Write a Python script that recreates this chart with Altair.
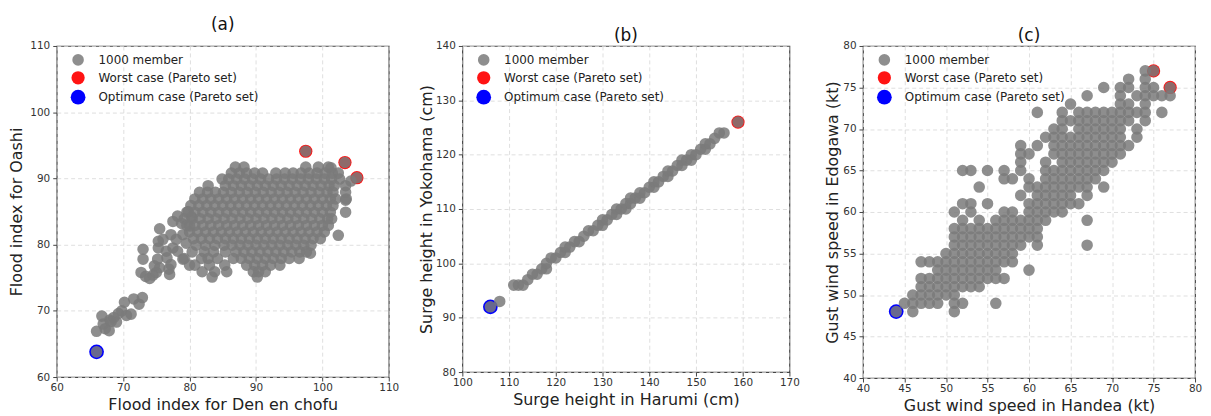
import altair as alt
import pandas as pd

SERIES = ["1000 member", "Worst case (Pareto set)", "Optimum case (Pareto set)"]
SERIES_COLORS = ["#7a7a7a", "#ff0000", "#0000ff"]
SERIES_SIZES = [135, 220, 220]
SERIES_OPACITY = [0.85, 1, 1]

# ---------------- (a) Flood index ----------------
a_tail_den = [66.0, 66.8, 67.0, 67.3, 67.9, 68.0, 68.2, 68.6, 69.0, 69.3,
              69.8, 70.2, 70.5, 71.2, 71.6, 72.4, 72.9]
a_tail_oashi = [66.9, 69.2, 68.0, 67.3, 67.0, 68.6, 68.4, 69.0, 68.3, 69.6,
                70.0, 71.3, 69.3, 69.5, 71.8, 71.0, 72.0]
a_left_den = [73.0, 73.0, 72.7, 73.4, 74.0, 74.5, 75.0, 75.5, 74.7, 75.2,
              75.3, 75.3, 75.5, 76.0, 76.5, 76.6, 76.9, 77.0, 77.2, 77.5,
              77.2, 78.0, 77.5, 78.2, 78.8, 79.0, 78.2, 79.0, 79.5, 80.0,
              80.3, 79.8]
a_left_oashi = [79.3, 77.8, 75.8, 75.2, 74.9, 75.4, 75.8, 76.5, 76.8, 77.8,
                79.5, 80.5, 82.4, 80.8, 79.0, 78.0, 76.3, 75.5, 77.0, 79.5,
                81.5, 80.8, 83.5, 84.3, 83.2, 81.5, 79.0, 77.8, 80.2, 82.8,
                84.2, 85.0]
a_row_oashi = [91.7, 90.8, 89.9, 88.9, 87.9, 86.9, 85.9, 84.9, 83.9, 82.9,
               81.9, 80.9, 79.9, 78.9, 77.9, 76.9, 75.9, 75.1]
a_row_den = [
    [86.9, 88.2, 97.5, 99.4, 100.9],
    [86.3, 87.5, 88.6, 89.8, 91.0, 93.0, 94.4, 95.6, 96.8, 98.0, 99.2, 100.4, 101.5, 102.4],
    [84.9, 85.9, 87.1, 88.3, 89.5, 90.7, 91.9, 93.1, 94.3, 95.5, 96.7, 97.9, 99.1, 100.3, 101.4, 102.6],
    [82.8, 85.4, 86.6, 87.8, 89.0, 90.2, 91.4, 92.6, 93.8, 95.0, 96.2, 97.4, 98.6, 99.8, 101.0, 101.8, 103.5],
    [81.5, 82.7, 83.9, 85.1, 86.3, 87.5, 88.7, 89.9, 91.1, 92.3, 93.5, 94.7, 95.9, 97.1, 98.3, 99.5, 100.7, 101.6, 103.5],
    [80.8, 82.0, 83.2, 84.4, 85.6, 86.8, 88.0, 89.2, 90.4, 91.6, 92.8, 94.0, 95.2, 96.4, 97.6, 98.8, 100.0, 101.2, 102.0, 103.6],
    [80.2, 81.4, 82.6, 83.8, 85.0, 86.2, 87.4, 88.6, 89.8, 91.0, 92.2, 93.4, 94.6, 95.8, 97.0, 98.2, 99.4, 100.6, 101.6],
    [79.6, 80.8, 82.0, 83.2, 84.4, 85.6, 86.8, 88.0, 89.2, 90.4, 91.6, 92.8, 94.0, 95.2, 96.4, 97.6, 98.8, 100.0, 101.2, 103.5],
    [79.2, 80.4, 81.6, 82.8, 84.0, 85.2, 86.4, 87.6, 88.8, 90.0, 91.2, 92.4, 93.6, 94.8, 96.0, 97.2, 98.4, 99.6, 100.8, 101.4],
    [79.6, 80.8, 82.0, 83.2, 84.4, 85.6, 86.8, 88.0, 89.2, 90.4, 91.6, 92.8, 94.0, 95.2, 96.4, 97.6, 98.8, 100.0, 100.9],
    [80.0, 81.2, 82.4, 83.6, 84.8, 86.0, 87.2, 88.4, 89.6, 90.8, 92.0, 93.2, 94.4, 95.6, 96.8, 98.0, 99.2, 100.3],
    [80.6, 81.8, 83.0, 84.2, 85.4, 86.6, 87.8, 89.0, 90.2, 91.4, 92.6, 93.8, 95.0, 96.2, 97.4, 98.6, 99.7],
    [81.0, 82.4, 83.8, 85.2, 86.4, 87.6, 88.8, 90.0, 91.2, 92.4, 93.6, 94.8, 96.0, 97.2, 98.3],
    [80.4, 82.2, 83.6, 85.4, 87.0, 88.2, 89.4, 90.6, 91.8, 93.0, 94.2, 95.4, 96.6, 97.6],
    [79.2, 81.8, 82.8, 84.2, 86.6, 87.8, 89.0, 90.2, 91.4, 92.6, 93.8, 95.0, 96.5],
    [80.0, 80.8, 83.0, 85.3, 88.6, 89.8, 91.0, 92.2, 93.6],
    [81.9, 83.8, 85.6, 89.6, 90.4, 91.4],
    [83.4, 90.2],
]
a_extra_den = [98.2, 102.4, 104.3, 103.5, 101.3, 97.5, 103.4, 105.2, 66.0]
a_extra_oashi = [78.7, 81.4, 89.6, 86.7, 91.6, 94.1, 92.4, 90.1, 63.8]
a_worst_den = [97.5, 103.4, 105.2]
a_worst_oashi = [94.1, 92.4, 90.1]
a_opt_den = [66.0]
a_opt_oashi = [63.8]

# ---------------- (b) Surge height ----------------
b_harumi = [106, 108,
            111, 112, 113, 114, 115, 116, 117, 118, 118,
            119, 120, 121, 122, 122, 123, 124, 125, 126, 127, 128, 129, 130, 130,
            131, 132, 133, 133, 134, 135, 135, 136, 136, 137, 138, 138, 139, 140,
            141, 141, 142, 143, 144, 144, 145, 146, 147, 147, 148, 149, 149, 150,
            151, 152, 152, 153, 154, 155, 156, 159]
b_yokohama = [92, 93,
              96, 96, 96, 97, 98, 98, 99, 99, 100,
              101, 101, 102, 102, 103, 103, 104, 104, 105, 106, 106, 107, 107, 108,
              108, 109, 109, 110, 110, 110, 111, 111, 112, 112, 112, 113, 113, 114,
              114, 115, 115, 116, 116, 117, 117, 118, 118, 119, 119, 119, 120, 120,
              121, 121, 122, 122, 123, 124, 124, 126]
b_worst_harumi = [159]
b_worst_yokohama = [126]
b_opt_harumi = [106]
b_opt_yokohama = [92]

# ---------------- (c) Gust wind speed ----------------
c_row_edogawa = [77, 76, 75, 74, 73, 72, 71, 70, 69, 68, 67, 66, 65, 64, 63,
                 62, 61, 60, 59, 58, 57, 56, 55, 54, 53, 52, 51, 50, 49, 48]
c_row_handea = [
    [74, 75],
    [72, 74],
    [69, 71, 72, 74, 75, 77],
    [67, 71, 73, 74, 75, 76, 77],
    [65, 71, 72, 74],
    [61, 64, 66, 67, 68, 69, 70, 71, 72, 73, 74, 76],
    [64, 65, 66, 67, 68, 69, 70, 71, 72, 74],
    [63, 64, 66, 67, 68, 69, 70, 71, 73],
    [62, 63, 64, 65, 66, 67, 68, 69, 70, 71, 73],
    [59, 61, 63, 64, 65, 66, 67, 68, 69, 70, 71, 72],
    [59, 60, 63, 64, 65, 66, 67, 68, 69, 70, 71],
    [59, 62, 64, 65, 66, 67, 68, 69, 70],
    [52, 53, 55, 57, 59, 62, 63, 64, 65, 66, 67, 68, 69],
    [57, 58, 60, 62, 63, 64, 65, 66, 67, 68],
    [54, 60, 61, 62, 63, 64, 65, 66, 67, 69],
    [59, 61, 62, 63, 64, 65, 67],
    [52, 53, 55, 60, 61, 62, 63, 64, 65, 66],
    [51, 53, 57, 58, 60, 61, 62, 63, 64],
    [52, 54, 56, 57, 58, 59, 60, 61, 62, 67],
    [51, 52, 53, 54, 55, 56, 57, 58, 59, 60, 61],
    [51, 52, 53, 54, 55, 56, 57, 58, 59, 60, 61],
    [51, 52, 53, 54, 55, 56, 57, 58, 59, 61, 67],
    [50, 51, 52, 53, 54, 55, 56, 57, 58],
    [47, 48, 49, 50, 51, 52, 53, 54, 55, 56, 57, 58],
    [49, 50, 51, 52, 53, 54, 55, 56, 60],
    [47, 48, 49, 50, 51, 52, 53, 54, 55, 56, 57],
    [47, 48, 49, 50, 51, 52, 53, 54],
    [46, 47, 48, 49, 50, 51],
    [45, 46, 47, 48, 49, 51, 52, 56],
    [44, 46, 51],
]
c_worst_handea = [75, 77]
c_worst_edogawa = [77, 75]
c_opt_handea = [44]
c_opt_edogawa = [48]


def rows_to_xy(row_y, row_x):
    xs, ys = [], []
    for yv, xl in zip(row_y, row_x):
        for xv in xl:
            xs.append(xv)
            ys.append(yv)
    return xs, ys


def frames(gx, gy, wx, wy, ox, oy):
    gray = pd.DataFrame({"x": gx, "y": gy, "series": SERIES[0]})
    spec = pd.DataFrame({
        "x": wx + ox,
        "y": wy + oy,
        "series": [SERIES[1]] * len(wx) + [SERIES[2]] * len(ox),
    })
    return gray, spec


LEG = alt.Legend(
    title=None, orient="none", legendX=14, legendY=8, padding=0,
    labelFontSize=12, labelColor="#222", labelFont="DejaVu Sans", labelLimit=400,
    symbolType="circle", symbolStrokeWidth=0, rowPadding=5, labelOffset=13,
)


def panel(gray_df, spec_df, xtitle, ytitle, xdom, ydom, xticks, yticks,
          title, toff, w, h, ytpad):
    ax_common = dict(
        grid=True, gridDash=[4, 3], gridColor="#d6d6d6", gridWidth=0.8,
        tickSize=4, tickColor="#444", tickWidth=1,
        labelFontSize=10.5, labelColor="#333", labelFlush=False,
        labelOverlap=False, titleFontSize=16, titleFontWeight="normal",
        titleColor="#222", domain=False, format="d",
    )
    enc = dict(
        x=alt.X("x:Q", scale=alt.Scale(domain=xdom, nice=False, zero=False),
                axis=alt.Axis(values=xticks, title=xtitle, labelPadding=2,
                              titlePadding=3, **ax_common)),
        y=alt.Y("y:Q", scale=alt.Scale(domain=ydom, nice=False, zero=False),
                axis=alt.Axis(values=yticks, title=ytitle, labelPadding=3,
                              titlePadding=ytpad, **ax_common)),
        color=alt.Color("series:N", scale=alt.Scale(domain=SERIES, range=SERIES_COLORS), legend=LEG),
        size=alt.Size("series:N", scale=alt.Scale(domain=SERIES, range=SERIES_SIZES), legend=LEG),
        opacity=alt.Opacity("series:N", scale=alt.Scale(domain=SERIES, range=SERIES_OPACITY), legend=LEG),
    )
    spec = alt.Chart(spec_df).mark_circle(strokeWidth=0).encode(**enc)
    gray = alt.Chart(gray_df).mark_circle(strokeWidth=0).encode(**enc)
    return alt.layer(spec, gray).properties(
        width=w, height=h,
        title=alt.TitleParams(title, fontSize=17, fontWeight="normal",
                              color="#111", offset=toff, anchor="middle"),
    )


# assemble (a)
rx, ry = rows_to_xy(a_row_oashi, a_row_den)
a_gx = a_tail_den + a_left_den + rx + a_extra_den
a_gy = a_tail_oashi + a_left_oashi + ry + a_extra_oashi
a_gray, a_spec = frames(a_gx, a_gy, a_worst_den, a_worst_oashi, a_opt_den, a_opt_oashi)

b_gray, b_spec = frames(b_harumi, b_yokohama, b_worst_harumi, b_worst_yokohama,
                        b_opt_harumi, b_opt_yokohama)

cx, cy = rows_to_xy(c_row_edogawa, c_row_handea)
c_gray, c_spec = frames(cx, cy, c_worst_handea, c_worst_edogawa, c_opt_handea, c_opt_edogawa)

pa = panel(a_gray, a_spec, "Flood index for Den en chofu", "Flood index for Oashi",
           [60, 110], [60, 110], [60, 70, 80, 90, 100, 110], [60, 70, 80, 90, 100, 110],
           "(a)", 7, 334, 333, 5)
pb = panel(b_gray, b_spec, "Surge height in Harumi (cm)", "Surge height in Yokohama (cm)",
           [100, 170], [80, 140], [100, 110, 120, 130, 140, 150, 160, 170],
           [80, 90, 100, 110, 120, 130, 140], "(b)", -4, 329, 328, 1)
pc = panel(c_gray, c_spec, "Gust wind speed in Handea (kt)", "Gust wind speed in Edogawa (kt)",
           [40, 80], [40, 80], [40, 45, 50, 55, 60, 65, 70, 75, 80],
           [40, 45, 50, 55, 60, 65, 70, 75, 80], "(c)", -4, 334, 334, 2)

chart = alt.hconcat(pa, pb, pc, spacing=74, bounds="flush").resolve_scale(
    color="independent", size="independent", opacity="independent",
    x="independent", y="independent",
).resolve_legend(
    color="independent", size="independent", opacity="independent",
).properties(
    padding={"left": 0, "top": 6, "right": 0, "bottom": 0},
).configure(
    font="DejaVu Sans",
).configure_view(
    stroke="#444", strokeWidth=1.2,
)

chart.save("out.html", embed_options={"renderer": "svg", "actions": False})
